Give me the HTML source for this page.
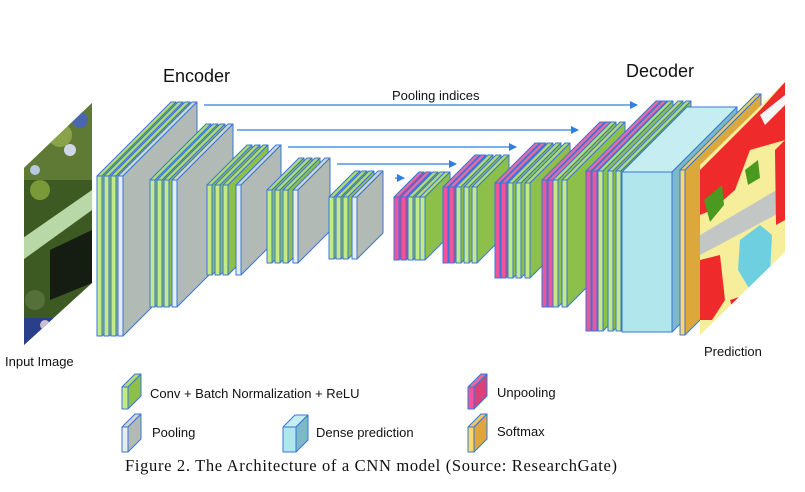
<!DOCTYPE html>
<html><head><meta charset="utf-8">
<style>
html,body{margin:0;padding:0;background:#fff;}
svg{display:block;}
text{font-family:"Liberation Sans","DejaVu Sans",sans-serif;fill:#111;}
</style></head>
<body>
<svg id="s" width="805" height="492" viewBox="0 0 805 492" xmlns="http://www.w3.org/2000/svg">
<defs>
<clipPath id="inClip"><polygon points="24,168 92,103 92,283 24,345"/></clipPath>
<clipPath id="prClip"><polygon points="700,165 785,82 785,252 700,335"/></clipPath>
<marker id="ah" markerWidth="8" markerHeight="8" refX="7" refY="4" orient="auto" markerUnits="userSpaceOnUse">
<path d="M0,0 L8,4 L0,8 z" fill="#2f7fe0"/></marker>
</defs>

<!-- input image -->
<g clip-path="url(#inClip)">
<rect x="20" y="100" width="80" height="250" fill="#3d5a22"/>
<rect x="20" y="100" width="80" height="80" fill="#5f7a35"/>
<circle cx="60" cy="135" r="12" fill="#8aa34a"/>
<circle cx="80" cy="120" r="8" fill="#4a66b0"/>
<circle cx="70" cy="150" r="6" fill="#d0d8e8"/>
<circle cx="40" cy="190" r="10" fill="#7a9a3a"/>
<circle cx="35" cy="170" r="5" fill="#b8c8e0"/>
<polygon points="20,240 92,190 92,210 20,262" fill="#b9d8a8"/>
<polygon points="50,250 92,230 92,283 50,300" fill="#151c12"/>
<circle cx="35" cy="300" r="10" fill="#56703a"/>
<rect x="24" y="318" width="30" height="30" fill="#2a3f8a"/>
<circle cx="45" cy="325" r="5" fill="#c8c0d0"/>
</g>

<g id="layers"></g>

<!-- prediction -->
<g clip-path="url(#prClip)">
<rect x="695" y="80" width="95" height="260" fill="#f7ee9c"/>
<polygon points="700,170 760,110 785,82 785,140 750,150 735,190 712,210 700,215" fill="#ee2a2a"/>
<polygon points="760,115 785,95 785,105 765,125" fill="#f5f5f5"/>
<polygon points="700,235 785,185 785,210 700,255" fill="#c2c6c4"/>
<polygon points="704,200 722,185 724,205 710,222" fill="#4b9a20"/>
<polygon points="740,240 760,225 772,235 770,275 750,290 738,270" fill="#6dcfe0"/>
<polygon points="700,260 720,255 725,300 712,320 700,320" fill="#ee2a2a"/>
<polygon points="730,300 760,290 770,320 740,335" fill="#ee2a2a"/>
<polygon points="775,150 785,140 785,220 776,225" fill="#ee2a2a"/>
<polygon points="745,170 758,160 760,178 748,185" fill="#4b9a20"/>
</g>

<!-- arrows -->
<g stroke="#2f7fe0" stroke-width="1.3" fill="none">
<line x1="204" y1="105" x2="637" y2="105" marker-end="url(#ah)"/>
<line x1="237" y1="130" x2="578" y2="130" marker-end="url(#ah)"/>
<line x1="288" y1="147" x2="516" y2="147" marker-end="url(#ah)"/>
<line x1="337" y1="164" x2="456" y2="164" marker-end="url(#ah)"/>
<line x1="395" y1="178" x2="404" y2="178" marker-end="url(#ah)"/>
</g>

<text x="163" y="82" font-size="18">Encoder</text>
<text x="626" y="77" font-size="18">Decoder</text>
<text x="392" y="100" font-size="13">Pooling indices</text>
<text x="5" y="366" font-size="13">Input Image</text>
<text x="704" y="356" font-size="13">Prediction</text>

<g id="legend"></g>
<text x="150" y="398" font-size="13">Conv + Batch Normalization + ReLU</text>
<text x="152" y="437" font-size="13">Pooling</text>
<text x="316" y="437" font-size="13">Dense prediction</text>
<text x="497" y="397" font-size="13">Unpooling</text>
<text x="497" y="436" font-size="13">Softmax</text>
<text x="125" y="471" font-size="16.5" textLength="492" style="font-family:'Liberation Serif',serif">Figure 2. The Architecture of a CNN model (Source: ResearchGate)</text>
</svg>
<script>
var C={
 g:{f:"#c4ea86",s:"#8cc04a",t:"#b2dc70"},
 p:{f:"#f0559c",s:"#d8427c",t:"#e66aa5"},
 y:{f:"#f8d96a",s:"#dca83c",t:"#f0c860"},
 c:{f:"#b0e6ec",s:"#7cb8c8",t:"#c6eef2"},
 r:{f:"#e8ecee",s:"#b2bab6",t:"#cfd6d4"}
};
function slab(g,x,y,t,h,d,k){
 var c=C[k],st='stroke="#3876d8" stroke-width="1" stroke-linejoin="round"';
 var s='';
 s+='<polygon points="'+[x,y,x+d,y-d,x+t+d,y-d,x+t,y].join(',')+'" fill="'+c.t+'" '+st+'/>';
 s+='<polygon points="'+[x+t,y,x+t+d,y-d,x+t+d,y-d+h,x+t,y+h].join(',')+'" fill="'+c.s+'" '+st+'/>';
 s+='<rect x="'+x+'" y="'+y+'" width="'+t+'" height="'+h+'" fill="'+c.f+'" '+st+'/>';
 g.innerHTML+=s;
}
var L=document.getElementById('layers');
function block(xs,types,y,h,d,t){for(var i=0;i<xs.length;i++)slab(L,xs[i],y,t||5,h,d,types[i]);}
block([97,104,111,118],"gggr",176,160,74);
block([150,157,164,172],"gggr",180,127,56);
block([207,215,223,236],"gggr",185,90,40);
block([267,275,283,293],"gggr",190,73,32);
block([329,336,343,352],"gggr",197,62,26);
block([394,401,408,415,420],"ppggg",197,63,25);
block([443,449,456,464,472],"ppggg",187,76,32);
block([495,501,508,516,525],"ppggg",183,95,40);
block([542,548,553,562],"ppgg",180,127,58);
block([586,592,598,608,616],"ppggg",171,160,70);
slab(L,622,172,50,160,65,'c');
slab(L,680,170,5,165,76,'y');
var G=document.getElementById('legend');
slab(G,122,387,6,22,13,'g');
slab(G,122,427,6,25,13,'r');
slab(G,283,427,13,25,12,'c');
slab(G,468,387,6,22,13,'p');
slab(G,468,427,6,25,13,'y');
</script>
</body></html>
